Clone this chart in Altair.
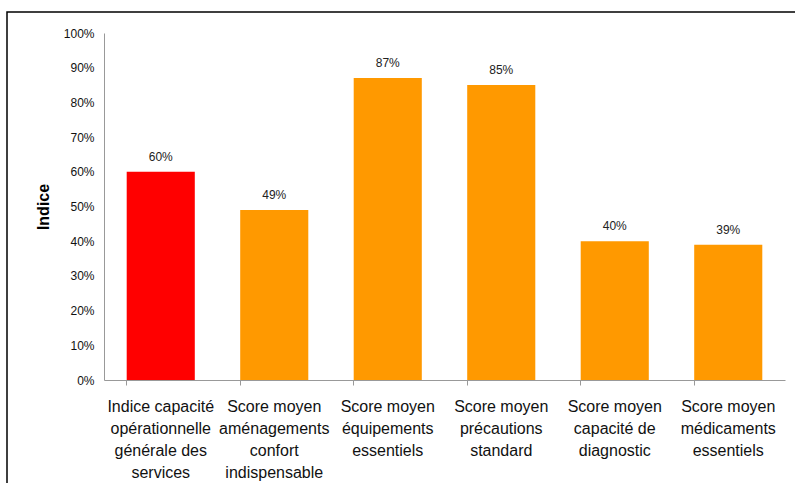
import altair as alt
import pandas as pd

categories = [
    "Indice capacité|opérationnelle|générale des|services",
    "Score moyen|aménagements|confort|indispensable",
    "Score moyen|équipements|essentiels",
    "Score moyen|précautions|standard",
    "Score moyen|capacité de|diagnostic",
    "Score moyen|médicaments|essentiels",
]
values = [0.60, 0.49, 0.87, 0.85, 0.40, 0.39]
colors = ["#FF0000", "#FF9900", "#FF9900", "#FF9900", "#FF9900", "#FF9900"]
yticks = [0.0, 0.1, 0.2, 0.3, 0.4, 0.5, 0.6, 0.7, 0.8, 0.9, 1.0]

df = pd.DataFrame({"cat": categories, "val": values, "color": colors})

FONT = "Liberation Sans"

x = alt.X("cat:N", sort=categories, title=None,
          scale=alt.Scale(paddingInner=0.4, paddingOuter=0.2),
          axis=alt.Axis(labelExpr="split(datum.label, '|')", labelAngle=0,
                        labelFontSize=16, labelColor="#111", labelFont=FONT,
                        labelPadding=13, labelLineHeight=22,
                        bandPosition=0, tickSize=5, tickColor="#999",
                        domainColor="#999"))
y = alt.Y("val:Q", title="Indice",
          scale=alt.Scale(domain=[0, 1], nice=False),
          axis=alt.Axis(format=".0%", values=yticks,
                        grid=False, ticks=False, labelFontSize=12,
                        labelColor="#111", labelFont=FONT, labelPadding=10,
                        domainColor="#999", titleFontSize=16, titleFont=FONT,
                        titleFontWeight="bold", titleColor="#000",
                        titlePadding=12))

bars = alt.Chart(df).mark_bar().encode(
    x=x, y=y, color=alt.Color("color:N", scale=None))

labels = alt.Chart(df).mark_text(baseline="bottom", dy=-8, fontSize=12,
                                 font=FONT, color="#222").encode(
    x=x, y=y,
    text=alt.Text("val:Q", format=".0%"))

border = alt.Chart(alt.Data(values=[{}])).mark_rect(
    fill=None, stroke="#000", strokeWidth=1.5).encode(
    x=alt.value(-97), x2=alt.value(695), y=alt.value(-21), y2=alt.value(470))

chart = alt.layer(bars, labels, border).properties(
    width=681, height=347,
    autosize=alt.AutoSizeParams(type="none"),
    padding={"left": 104, "top": 33, "right": 10, "bottom": 103},
).configure_view(stroke=None).configure_axisY(
    labelOverlap=False, labelSeparation=0
)

chart.save("out.html", embed_options={"renderer": "svg", "actions": False})
